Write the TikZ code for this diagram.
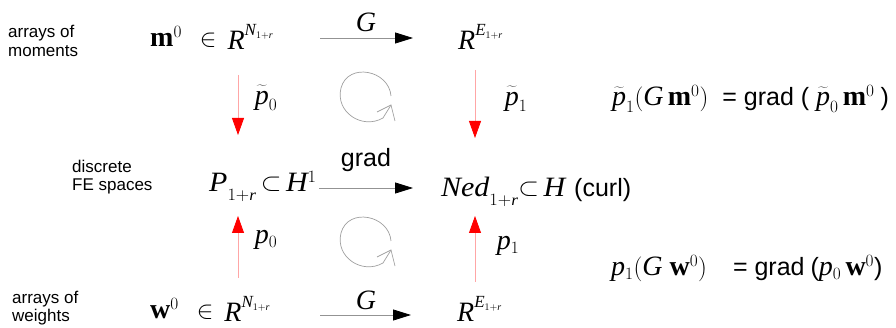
\documentclass[tikz,border=0pt]{standalone}
\usepackage{graphicx}
\usepackage{fontspec}
\setmainfont{Liberation Serif}
\setsansfont{Liberation Sans}
\edef\myrmfam{\rmdefault}
\DeclareSymbolFont{letters}{TU}{\myrmfam}{m}{it}
\DeclareMathSizes{28}{28}{17}{10}
\usetikzlibrary{arrows.meta}
\newcommand{\sfin}[1]{{\sffamily\fontsize{25}{28}\selectfont #1}}
\newcommand{\hisup}[1]{^{\raisebox{5pt}{$\scriptstyle #1$}}}
\newcommand{\losub}[1]{_{\raisebox{-5pt}{\fontsize{16}{17}\selectfont$#1$}}}
\newcommand{\smsub}{\mathord{\raisebox{1pt}{\fontsize{23}{24}\selectfont$\subset$}}}
\newcommand{\tp}{\widetilde{\vphantom{t}p}}
\newcommand{\wide}[1]{\scalebox{1.07}[1]{#1}}
\begin{document}
\begin{tikzpicture}[x=1pt,y=-1pt,
  side/.style={font=\sffamily\fontsize{17}{18.5}\selectfont, align=left, anchor=west, inner sep=0pt},
  mth/.style={font=\fontsize{28}{32}\selectfont, inner sep=0pt},
  lbl/.style={font=\fontsize{28}{32}\selectfont, inner sep=0pt},
  sflbl/.style={font=\sffamily\fontsize{25}{28}\selectfont, inner sep=0pt},
  maparrow/.style={draw=gray!85, line width=0.8pt, -{Triangle[length=18pt,width=11pt,color=black]}},
  projarrow/.style={draw=red!35, line width=0.8pt, -{Triangle[length=17pt,width=12pt,color=red]}},
  loopline/.style={draw=gray!75, line width=0.7pt}
]
\useasboundingbox (0,0) rectangle (896,328);

% side labels
\node[side] (lm) at (8,41) {arrays of\\moments};
\node[side] (lfe) at (72,177) {discrete\\FE spaces};
\node[side] (lw) at (12,308) {arrays of\\weights};

% top row
\node[mth, anchor=base west] (m0) at (150,47) {$\mathbf{m}^0\;\,\in\,\raisebox{-3pt}{$R\hisup{N_{1+r}}$}$};
\node[mth, anchor=base west] (RE) at (458,50) {$R\hisup{E_{1+r}}$};
\coordinate (tGa) at (320,38);
\coordinate (tGb) at (413,38);
\draw[maparrow] (tGa) -- (tGb);
\node[lbl] (tG) at (366,22) {$G$};

% middle row
\node[mth, anchor=base west] (P) at (209,192) {\wide{$P\losub{1{+}r}\,\smsub\,H^1$}};
\node[mth, anchor=base west] (Ned) at (441,197) {\wide{$Ned\losub{1{+}r}\smsub\,H$}\hspace{9pt}\sfin{(curl)}};
\coordinate (mGa) at (319,188);
\coordinate (mGb) at (413,188);
\draw[maparrow] (mGa) -- (mGb);
\node[sflbl] (mG) at (366,160) {grad};

% bottom row
\node[mth, anchor=base west] (w0) at (150,319) {$\mathbf{w}^0\;\,\in\,\raisebox{-3pt}{$R\hisup{N_{1+r}}$}$};
\node[mth, anchor=base west] (RE2) at (457,322) {$R\hisup{E_{1+r}}$};
\coordinate (bGa) at (320,315);
\coordinate (bGb) at (411,315);
\draw[maparrow] (bGa) -- (bGb);
\node[lbl] (bG) at (366,300) {$G$};

% vertical red arrows
\coordinate (a1s) at (238,75);  \coordinate (a1e) at (238,135);
\coordinate (a2s) at (475,70);  \coordinate (a2e) at (475,138);
\coordinate (a3s) at (238,278); \coordinate (a3e) at (238,216);
\coordinate (a4s) at (475,282); \coordinate (a4e) at (475,216);
\draw[projarrow] (a1s) -- (a1e);
\draw[projarrow] (a2s) -- (a2e);
\draw[projarrow] (a3s) -- (a3e);
\draw[projarrow] (a4s) -- (a4e);
\node[lbl] (pt0) at (266,98) {$\tp_0$};
\node[lbl] (pt1) at (516,99) {$\tp_1$};
\node[lbl] (p0) at (266,240) {$p_0$};
\node[lbl] (p1) at (508,246) {$p_1$};

% commutation loops
\draw[loopline] (391,96) .. controls (389,70) and (348,62) .. (341,88)
  .. controls (335,112) and (362,130) .. (383,118) -- (391,105);
\draw[loopline] (377,112) -- (391,105) -- (395,121);
\draw[loopline] (391,241) .. controls (389,215) and (348,207) .. (341,233)
  .. controls (335,257) and (362,275) .. (383,263) -- (391,250);
\draw[loopline] (377,257) -- (391,250) -- (395,266);

% equations
\node[lbl, anchor=base west] (eq1) at (612,106) {$\tp_1(G\,\mathbf{m}^0)$\hspace{14pt}\sfin{= grad (} $\tp_0\,\mathbf{m}^0$\hspace{6pt}\sfin{)}};
\node[lbl, anchor=base west] (eq2) at (611,276) {$p_1(G\;\mathbf{w}^0)$\hspace{26pt}\sfin{= grad\hspace{6pt}(}$p_0\,\mathbf{w}^0$\sfin{)}};
\end{tikzpicture}
\end{document}
